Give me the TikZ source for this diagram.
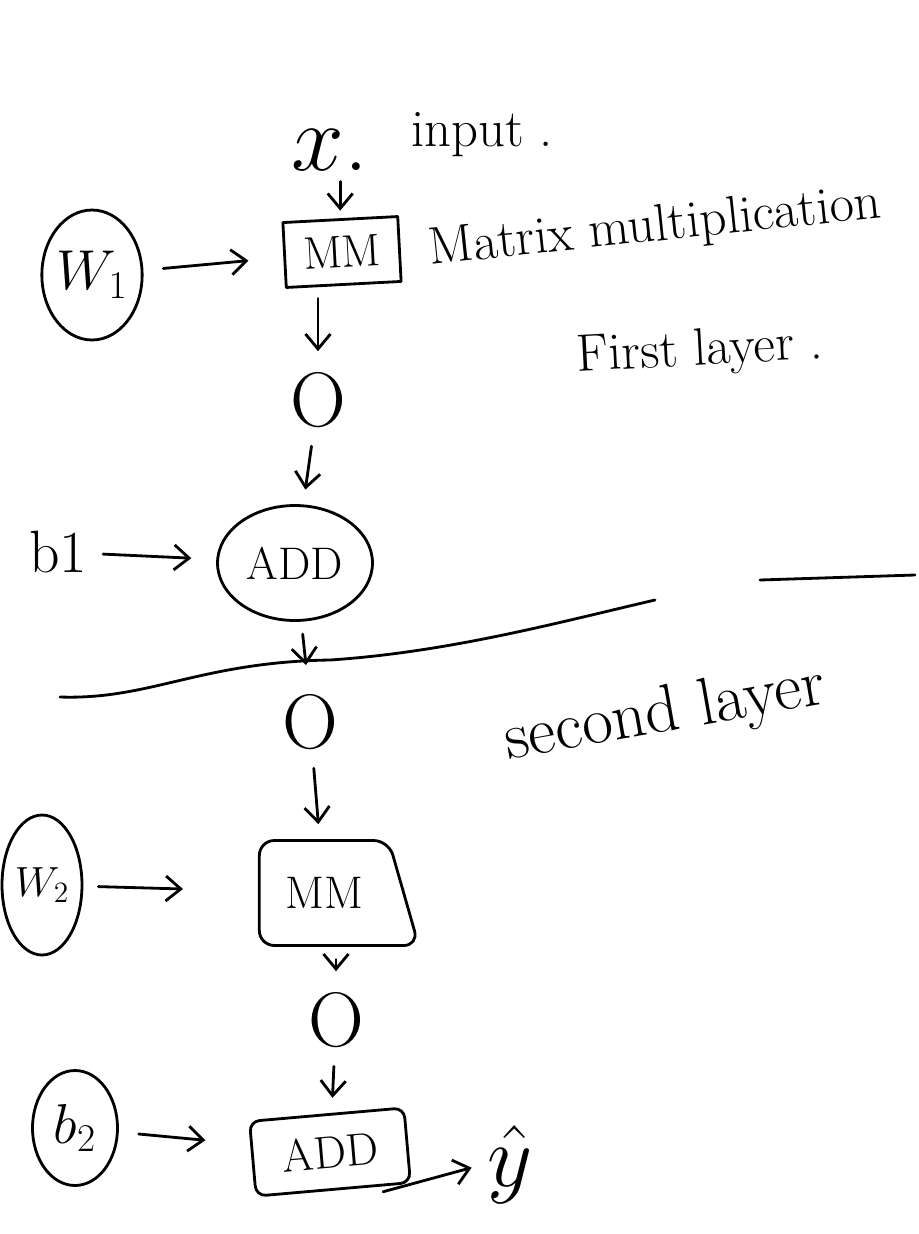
\RequirePackage{fix-cm}
\documentclass[tikz,border=0pt]{standalone}
\usetikzlibrary{shapes.geometric,arrows.meta}
\begin{document}
\begin{tikzpicture}[x=0.02cm,y=-0.02cm,
  ink/.style={line width=1.6pt, line cap=round, line join=round},
  arr/.style={ink,-{Straight Barb[length=3mm,width=5mm]}, shorten <=0.25cm, shorten >=0.3cm},
  harr/.style={arr, shorten <=0.4cm, shorten >=0.7cm},
  lbl/.style={font=\fontsize{30}{34}\selectfont},
  big/.style={font=\fontsize{44}{48}\selectfont},
  opbox/.style={ink, draw, font=\fontsize{26}{30}\selectfont, inner sep=0pt},
  val/.style={ink, draw, ellipse, inner sep=0pt, font=\fontsize{32}{36}\selectfont}]
\useasboundingbox (0,0) rectangle (919,1234);

% first layer
\node[big, font=\fontsize{54}{58}\selectfont] (x) at (330,150) {$x$.};
\node[lbl, anchor=west] (input) at (405,135) {input .};
\node[opbox, rectangle, minimum width=2.3cm, minimum height=1.3cm, rotate=3] (mm1) at (342,252) {MM};
\node[lbl, rotate=6] (mmtxt) at (655,228) {Matrix multiplication};
\node[val, minimum width=1.9cm, minimum height=2.6cm] (w1) at (92,275) {$W_1$};
\node[big] (o1) at (318,400) {O};
\node[lbl, rotate=3] (first) at (700,352) {First layer .};
\node[opbox, ellipse, minimum width=3.1cm, minimum height=2.3cm] (add1) at (295,563) {ADD};
\node[lbl, font=\fontsize{34}{38}\selectfont] (b1) at (58,552) {b1};

\draw[arr] (mm1.south -| o1) -- (o1);
\draw[arr, shorten <=0.1cm, shorten >=0.15cm] (x.south -| mm1.north) -- (mm1.north);
\draw[harr] (w1) -- (mm1);
\draw[arr] (o1) -- (add1);
\draw[harr, shorten <=0.2cm, shorten >=0.5cm] (b1) -- (add1);

% divider
\draw[ink] (60,697) .. controls (150,700) and (200,662) .. (330,660)
  .. controls (450,652) and (560,622) .. (655,600);
\draw[ink] (760,580) -- (915,575);
\node[lbl, rotate=10, font=\fontsize{38}{42}\selectfont] (second) at (665,715) {second layer};

% second layer
\node[big] (o2) at (310,722) {O};
\coordinate (cut) at (306,665);
\draw[arr, shorten >=0pt] (add1) -- (cut);
\node[opbox, trapezium, trapezium left angle=90, trapezium right angle=60,
  trapezium stretches=true,
  minimum width=3.2cm, minimum height=2.1cm, rounded corners=0.3cm] (mm2) at (324,893) {MM};
\node[val, font=\fontsize{24}{28}\selectfont, minimum width=1.6cm, minimum height=2.8cm] (w2) at (42,885) {$W_2$};
\node[big] (o3) at (336,1020) {O};
\node[opbox, rectangle, rounded corners=0.2cm, minimum width=3.1cm, minimum height=1.5cm, rotate=5] (add2) at (330,1152) {ADD};
\node[val, minimum width=1.7cm, minimum height=2.3cm] (b2) at (75,1128) {$b_2$};
\node[big, font=\fontsize{50}{54}\selectfont] (yhat) at (510,1165) {$\hat{y}$};

\draw[arr] (o2) -- (mm2);
\draw[harr, shorten <=0.3cm, shorten >=1.5cm] (w2) -- (mm2);
\draw[arr] (mm2.south -| o3) -- (o3);
\draw[arr] (o3) -- (add2);
\draw[harr, shorten >=0.9cm] (b2) -- (add2);
\draw[arr, shorten <=-0.6cm, shorten >=0.2cm] (add2.south east) -- (yhat.west);
\end{tikzpicture}
\end{document}
